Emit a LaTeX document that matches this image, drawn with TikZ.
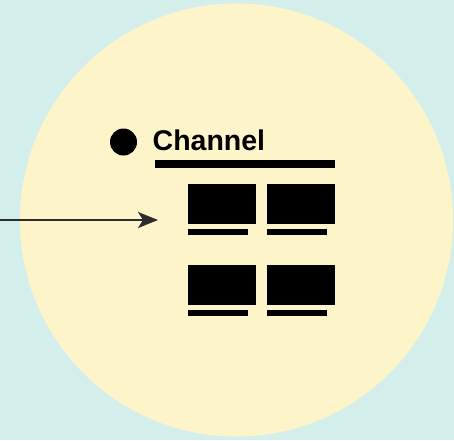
\documentclass[tikz,border=0pt]{standalone}
\usepackage{fontspec}
\setmainfont{Liberation Sans}
\usetikzlibrary{arrows.meta}
\definecolor{bgteal}{RGB}{212,239,235}
\definecolor{circyellow}{RGB}{253,245,201}
\definecolor{arrowgray}{RGB}{45,42,48}
\begin{document}
\begin{tikzpicture}[x=1pt,y=-1pt,
  blk/.style={fill=black,draw=none},
  conn/.style={draw=arrowgray,line width=2pt,-{Stealth[length=20pt,width=16pt,inset=5pt]}}]
\useasboundingbox (0,0) rectangle (454,440);
\clip (0,0) rectangle (454,440);
\fill[bgteal] (0,0) rectangle (454,440);
\fill[circyellow] (236.5,220) circle[radius=216.5];
% bullet
\fill[black] (123.5,142) circle[radius=13.5];
% title
\node[anchor=base west,inner sep=0pt,font=\bfseries\fontsize{28.5}{30}\selectfont] (title) at (152.5,150) {Channel};
% bar under title
\fill[blk] (155,159.5) rectangle (335,167.5);
% grid of screens
\fill[blk] (188.3,184) rectangle (256,224);
\fill[blk] (267,184) rectangle (335,224);
\fill[blk] (188.3,229) rectangle (248,235);
\fill[blk] (267,229) rectangle (327,235);
\fill[blk] (188.3,265) rectangle (256,305);
\fill[blk] (267,265) rectangle (335,305);
\fill[blk] (188.3,310) rectangle (248,316);
\fill[blk] (267,310) rectangle (327,316);
% arrow
\coordinate (src) at (0,220);
\coordinate (tip) at (158,220);
\draw[conn] (src) -- (tip);
\end{tikzpicture}
\end{document}
